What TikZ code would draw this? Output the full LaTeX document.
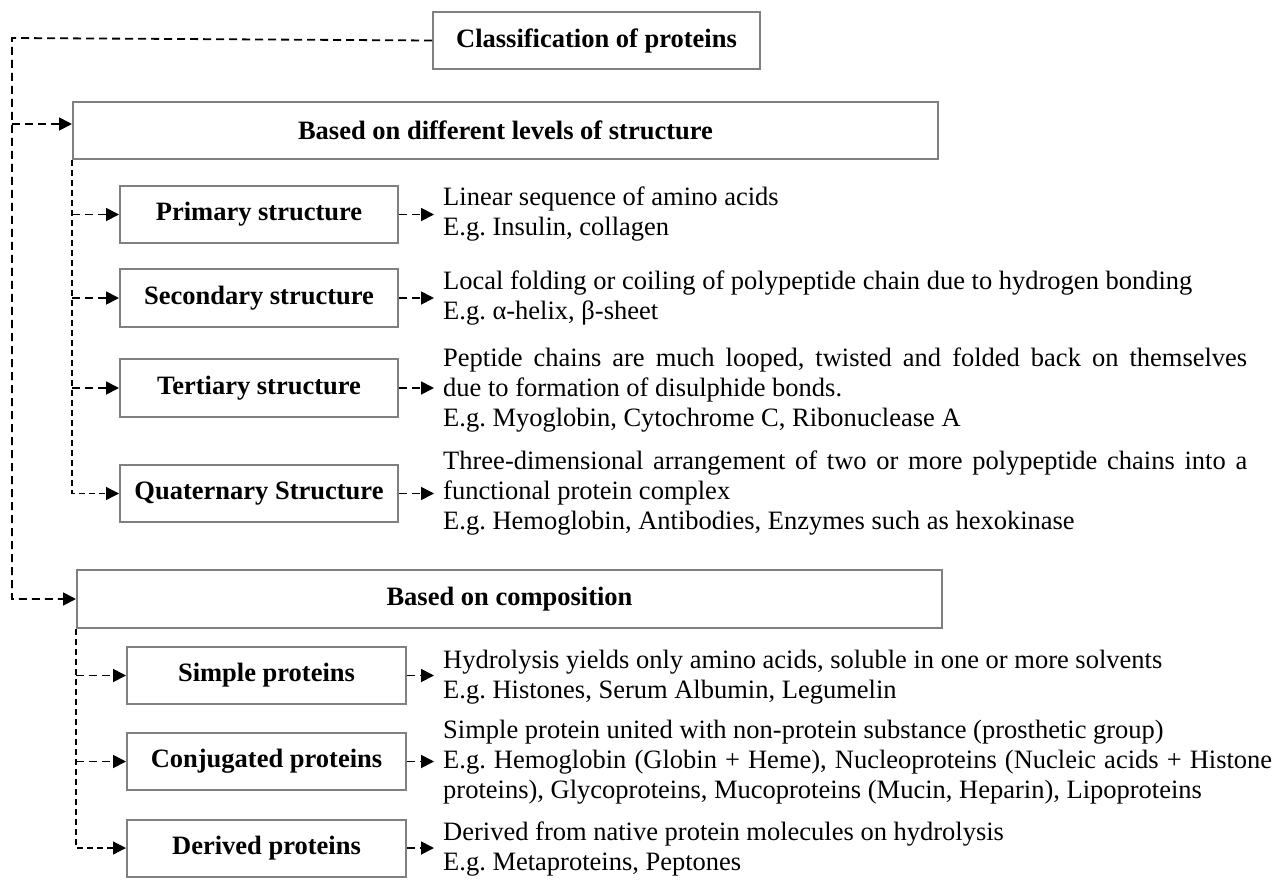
\documentclass[tikz,border=0pt]{standalone}
\usepackage{fontspec}
\setmainfont{Liberation Serif}
\usetikzlibrary{arrows.meta}
\definecolor{boxgray}{HTML}{808080}
\frenchspacing
\tikzset{
  box/.style={draw=boxgray, line width=2pt, fill=white, inner sep=0pt,
    font=\fontsize{26.5}{30}\selectfont\bfseries},
  desc/.style={anchor=west, align=left, inner sep=0pt,
    font=\fontsize{26.5}{30}\selectfont},
  dl/.style={black, line width=1.8pt, dash pattern=on 8pt off 5pt},
  dli/.style={black, line width=1.3pt, dash pattern=on 6pt off 4pt},
  tip/.style={-{Triangle[length=13pt,width=13pt]}},
}
\begin{document}
\begin{tikzpicture}[x=1pt,y=-1pt]
\useasboundingbox (0,0) rectangle (1277,879);

% boxes
\node[box, minimum width=327pt, minimum height=57pt] (cls) at (596.5,40.5) {Classification of proteins};
\node[box, minimum width=865pt, minimum height=57pt] (lev) at (505.5,130.5) {Based on different levels of structure};
\node[box, minimum width=278pt, minimum height=57pt] (prim) at (259,214.5) {Primary structure};
\node[box, minimum width=278pt, minimum height=58pt] (sec) at (259,298) {Secondary structure};
\node[box, minimum width=278pt, minimum height=58pt] (ter) at (259,388) {Tertiary structure};
\node[box, minimum width=278pt, minimum height=57pt] (qua) at (259,493.5) {Quaternary Structure};
\node[box, minimum width=865pt, minimum height=58pt] (comp) at (509.5,599) {Based on composition};
\node[box, minimum width=279pt, minimum height=57pt] (simp) at (266.5,675.5) {Simple proteins};
\node[box, minimum width=279pt, minimum height=57pt] (conj) at (266.5,761.5) {Conjugated proteins};
\node[box, minimum width=279pt, minimum height=57pt] (der) at (266.5,848) {Derived proteins};

% descriptions
\node[desc] (primt) at (443,214.5) {Linear sequence of amino acids\\E.g. Insulin, collagen};
\node[desc] (sect) at (443,298) {Local folding or coiling of polypeptide chain due to hydrogen bonding\\E.g. α-helix, β-sheet};
\node[desc] (tert) at (443,390) {\makebox[804pt][s]{Peptide chains are much looped, twisted and folded back on themselves}\\due to formation of disulphide bonds.\\E.g. Myoglobin, Cytochrome C, Ribonuclease A};
\node[desc] (quat) at (443,493.5) {\makebox[804pt][s]{Three-dimensional arrangement of two or more polypeptide chains into a}\\functional protein complex\\E.g. Hemoglobin, Antibodies, Enzymes such as hexokinase};
\node[desc] (simpt) at (443,677) {Hydrolysis yields only amino acids, soluble in one or more solvents\\E.g. Histones, Serum Albumin, Legumelin};
\node[desc] (conjt) at (443,762) {Simple protein united with non-protein substance (prosthetic group)\\\makebox[829pt][s]{E.g. Hemoglobin (Globin + Heme), Nucleoproteins (Nucleic acids + Histone}\\proteins), Glycoproteins, Mucoproteins (Mucin, Heparin), Lipoproteins};
\node[desc] (dert) at (443,849) {Derived from native protein molecules on hydrolysis\\E.g. Metaproteins, Peptones};

% outer tree
\coordinate (oc) at (12,38);
\draw[dl, tip] (cls.west) -- (oc) |- (comp.west);
\draw[dl, tip] (oc |- 0,124) -- ([yshift=6.5pt]lev.west);

% levels branches
\draw[dli, tip] (lev.south west) |- (qua.west);
\draw[dl, tip] (lev.south west |- prim.west) -- (prim.west);
\draw[dl, tip] (lev.south west |- sec.west) -- (sec.west);
\draw[dl, tip] (lev.south west |- ter.west) -- (ter.west);

% composition branches
\draw[dli, tip] (comp.south west) |- (der.west);
\draw[dl, tip] (comp.south west |- simp.west) -- (simp.west);
\draw[dl, tip] (comp.south west |- conj.west) -- (conj.west);

% right arrows
\foreach \a/\b in {prim/primt, sec/sect, ter/tert, qua/quat, simp/simpt, conj/conjt, der/dert}
  \draw[dl, tip, shorten >=9pt] (\a.east) -- (\a.east -| \b.west);
\end{tikzpicture}
\end{document}
